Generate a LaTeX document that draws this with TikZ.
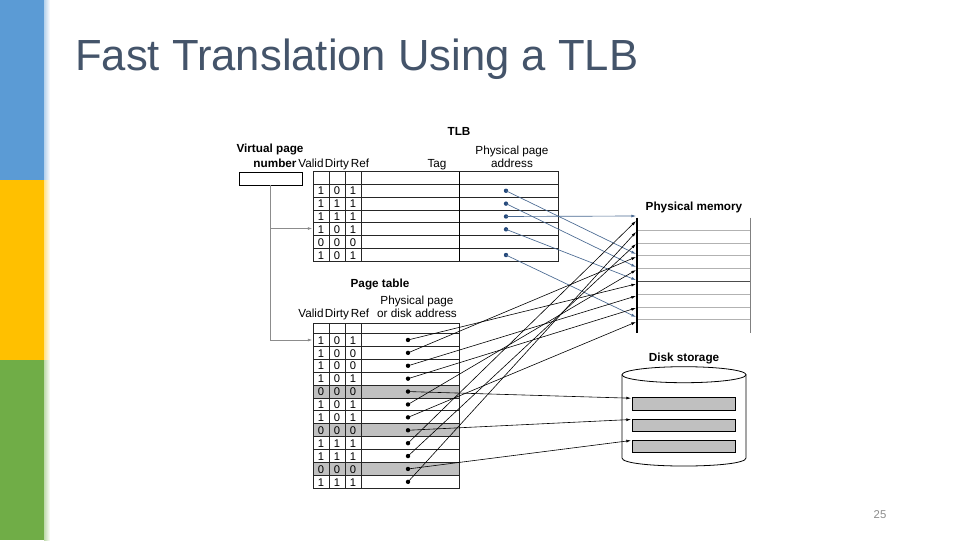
\documentclass[tikz,border=0pt]{standalone}
\usepackage{fontspec}
\setmainfont{Liberation Sans}
\usetikzlibrary{arrows.meta}
\definecolor{titlec}{HTML}{44546A}
\definecolor{barblue}{HTML}{5B9BD5}
\definecolor{baryel}{HTML}{FFC000}
\definecolor{bargrn}{HTML}{70AD47}
\definecolor{linkblue}{HTML}{4A6A92}
\definecolor{dotblue}{HTML}{24487A}
\definecolor{cellgray}{HTML}{C0C0C0}
\begin{document}
\begin{tikzpicture}[x=0.75pt,y=-0.75pt,
  lbl/.style={font=\fontsize{8.8}{10}\selectfont, inner sep=0pt, anchor=base},
  blbl/.style={font=\fontsize{8.8}{10}\selectfont\bfseries, inner sep=0pt, anchor=base},
  cell/.style={font=\fontsize{8.4}{9}\selectfont, inner sep=0pt, anchor=base},
  tline/.style={line width=0.7pt, draw=black!85},
  memline/.style={line width=0.6pt, draw=black!30},
  barr/.style={draw=linkblue, line width=0.5pt, -{Latex[length=3.5pt,width=2.2pt]}},
  karr/.style={draw=black, line width=0.45pt, -{Latex[length=3.5pt,width=2.2pt]}},
  garr/.style={draw=black!45, line width=0.6pt, -{Latex[length=3.5pt,width=2.2pt]}},
  bdot/.style={fill=dotblue},
  kdot/.style={fill=black}
]
\useasboundingbox (0,0) rectangle (960,540);
\fill[white] (0,0) rectangle (960,540);
% left bar
\fill[barblue] (0,0) rectangle (44,180);
\fill[baryel] (0,180) rectangle (44,360);
\fill[bargrn] (0,360) rectangle (44,540);
\shade[left color=barblue!45, right color=white] (44,0) rectangle (50,180);
\shade[left color=baryel!45, right color=white] (44,180) rectangle (50,360);
\shade[left color=bargrn!45, right color=white] (44,360) rectangle (50,540);
% title
\node[anchor=base west, text=titlec, font=\fontsize{32.7}{36}\selectfont, inner sep=0pt] (title) at (75,70) {Fast Translation Using a TLB};
\node[text=black!45, font=\fontsize{8.5}{10}\selectfont, inner sep=0pt] (pnum) at (880,515) {25};

% ---------- TLB ----------
\node[blbl] (tlbtitle) at (459,135) {TLB};
\node[blbl] (vpn1) at (270,152) {Virtual page};
\node[blbl] (vpn2) at (275,167) {number};
\node[lbl] (tv) at (311,167) {Valid};
\node[lbl] (td) at (337,167) {Dirty};
\node[lbl] (tr) at (360,167) {Ref};
\node[lbl] (ttag) at (437,167) {Tag};
\node[lbl] (tpp1) at (512,154) {Physical page};
\node[lbl] (tpp2) at (512,167) {address};
\node[draw, line width=0.6pt, minimum width=47.25pt, minimum height=9.75pt, inner sep=0pt] (vpn) at (270.5,178.5) {};

\foreach \k in {0,...,7} \draw[tline] (313,{171.5+12.85*\k}) -- (558.5,{171.5+12.85*\k});
\foreach \xx in {313,329,345,361,558.5} \draw[tline] (\xx,171.5) -- (\xx,261.45);
\draw[line width=1.1pt] (459.5,171.5) -- (459.5,261.45);
\foreach \v/\d/\r [count=\i] in {1/0/1,1/1/1,1/1/1,1/0/1,0/0/0,1/0/1} {
  \node[cell] (tlbv\i) at (321,{171.5+12.85*(\i+0.5)+4.2}) {\v};
  \node[cell] (tlbd\i) at (337,{171.5+12.85*(\i+0.5)+4.2}) {\d};
  \node[cell] (tlbr\i) at (353,{171.5+12.85*(\i+0.5)+4.2}) {\r};
  \coordinate (t\i) at (506,{171.5+12.85*(\i+0.5)});
}
\foreach \i in {1,2,3,4,6} \fill[bdot] (t\i) circle (2.2);

% ---------- Page table ----------
\node[blbl] (pttitle) at (380,287) {Page table};
\node[lbl] (ppp1) at (417,304) {Physical page};
\node[lbl] (ppp2) at (417,317) {or disk address};
\node[lbl] (pv) at (311,317) {Valid};
\node[lbl] (pd) at (337,317) {Dirty};
\node[lbl] (pr) at (360,317) {Ref};
\foreach \r in {5,8,11} \fill[cellgray] (313,{333.5+12.9*(\r-1)}) rectangle (459.5,{333.5+12.9*\r});
\draw[tline] (313,323) -- (459.5,323);
\foreach \k in {0,...,12} \draw[tline] (313,{333.5+12.9*\k}) -- (459.5,{333.5+12.9*\k});
\foreach \xx in {313,329,345,361,459.5} \draw[tline] (\xx,323) -- (\xx,488.3);
\foreach \v/\d/\r [count=\i] in {1/0/1,1/0/0,1/0/0,1/0/1,0/0/0,1/0/1,1/0/1,0/0/0,1/1/1,1/1/1,0/0/0,1/1/1} {
  \node[cell] (ptv\i) at (321,{333.5+12.9*(\i-0.5)+4.2}) {\v};
  \node[cell] (ptd\i) at (337,{333.5+12.9*(\i-0.5)+4.2}) {\d};
  \node[cell] (ptr\i) at (353,{333.5+12.9*(\i-0.5)+4.2}) {\r};
  \coordinate (p\i) at (408,{333.5+12.9*(\i-0.5)});
  \fill[kdot] (p\i) circle (2.2);
}

% virtual page number connectors
\coordinate (tlbin) at (312.5,228.5);
\coordinate (ptin) at (312.5,340);
\draw[garr] (vpn.south) |- (ptin);
\draw[garr] (vpn.south |- tlbin) -- (tlbin);

% ---------- Physical memory ----------
\node[blbl] (pmtitle) at (694,210) {Physical memory};
\foreach \k in {1,...,8} \draw[memline] (637,{217.5+12.78*\k}) -- (750,{217.5+12.78*\k});
\draw[line width=0.7pt, draw=black!70] (637,{217.5+12.78*5}) -- (750,{217.5+12.78*5});
\draw[line width=0.9pt] (637,217.5) -- (637,332.5);
\draw[line width=0.6pt, draw=black!50] (750,217.5) -- (750,332.5);

\foreach \n/\yy in {a/221,b/232,c/244,d/257,e/270,f/284,g/296,h/308,i/322} \coordinate (m\n) at (636,\yy);
\foreach \n/\yy in {a/216,b/254,c/267,d/280,e/317} \coordinate (bm\n) at (636,\yy);

% ---------- Disk ----------
\node[blbl] (dktitle) at (684,361) {Disk storage};
\draw[line width=0.6pt] (684,374.7) ellipse [x radius=62, y radius=8];
\draw[line width=0.6pt] (622,374.7) -- (622,458) .. controls (622,468.7) and (746,468.7) .. (746,458) -- (746,374.7);
\foreach \yy [count=\i] in {397.7,419,440} {
  \draw[fill=cellgray, line width=0.6pt] (632.3,\yy) rectangle (735.7,{\yy+12.8});
  \coordinate (d\i) at (631,{\yy+0.5});
}

% ---------- arrows ----------
\draw[barr] (t1) -- (bmb);
\draw[barr] (t2) -- (bmc);
\draw[barr] (t3) -- (bma);
\draw[barr] (t4) -- (bmd);
\draw[barr] (t6) -- (bme);

\draw[karr] (p1) -- (mf);
\draw[karr] (p2) -- (md);
\draw[karr] (p3) -- (mg);
\draw[karr] (p4) -- (mh);
\draw[karr] (p6) -- (me);
\draw[karr] (p7) -- (mi);
\draw[karr] (p9) -- (ma);
\draw[karr] (p10) -- (mc);
\draw[karr] (p12) -- (mb);

\draw[karr] (p5) -- (d1);
\draw[karr] (p8) -- (d2);
\draw[karr] (p11) -- (d3);
\end{tikzpicture}
\end{document}
